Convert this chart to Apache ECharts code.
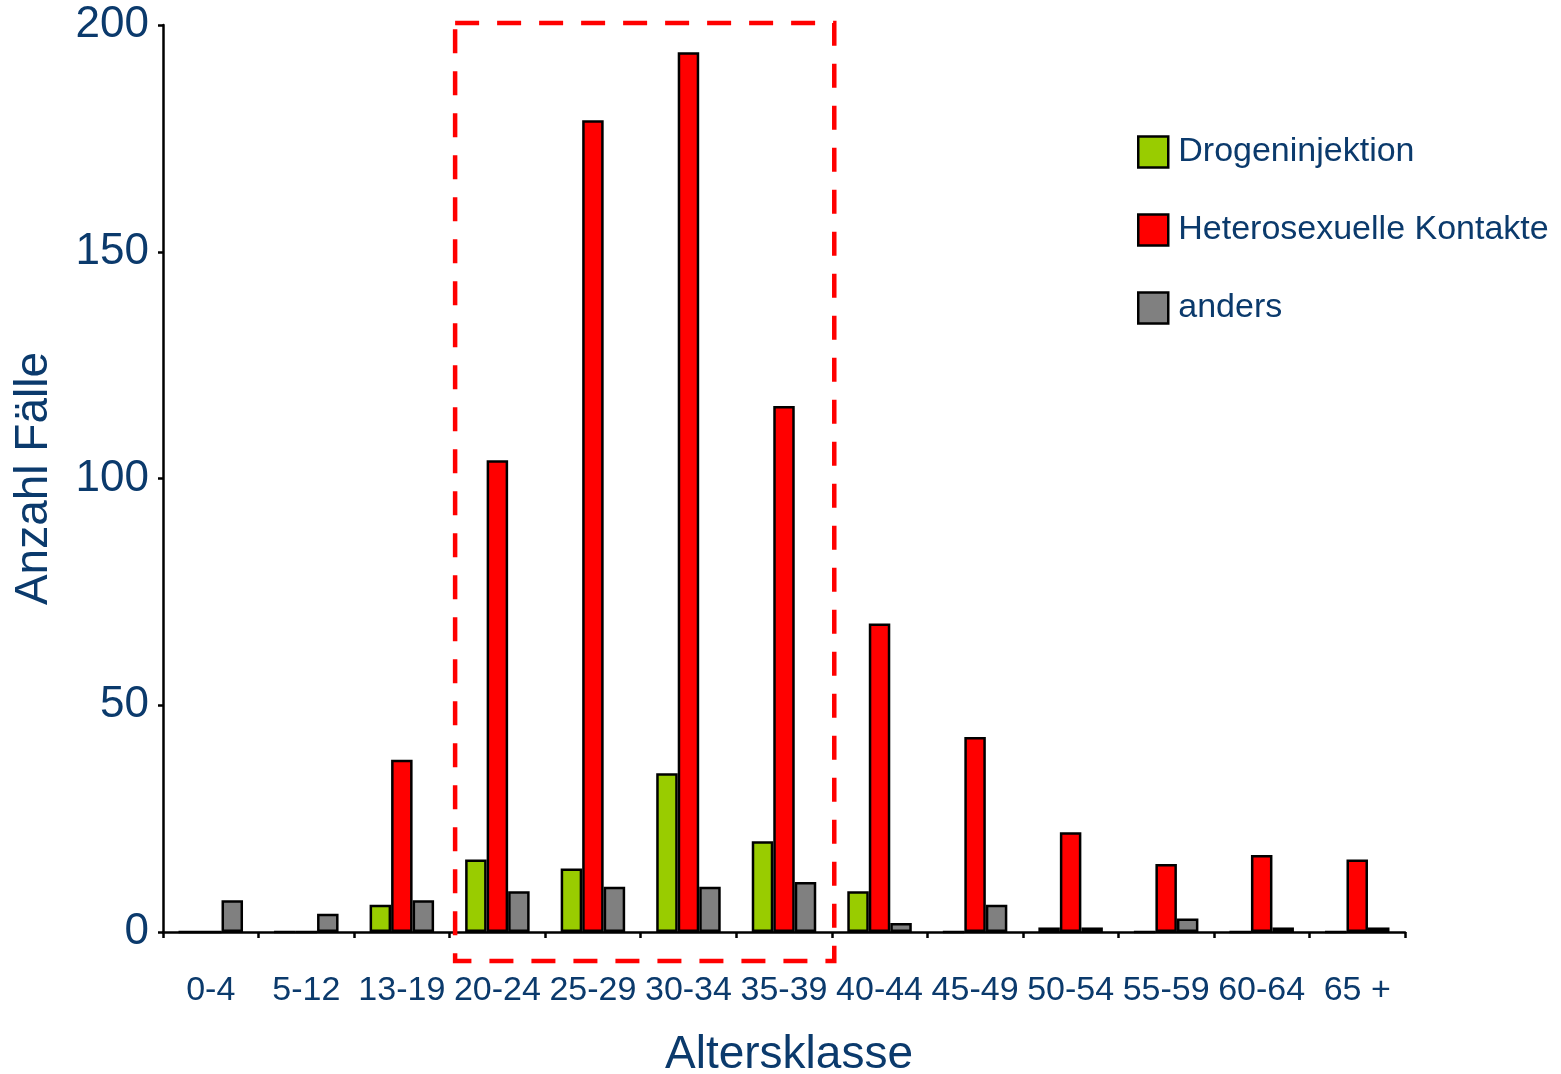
<!DOCTYPE html>
<html>
<head>
<meta charset="utf-8">
<script src="https://cdn.jsdelivr.net/npm/echarts@6/dist/echarts.min.js"></script>
<style>
  html, body { margin: 0; padding: 0; background: #fff; }
  #chart { width: 1561px; height: 1074px; }
</style>
</head>
<body>
<div id="chart"></div>
<script>
// Age classes and case counts per transmission route
const categories = ['0-4', '5-12', '13-19', '20-24', '25-29', '30-34', '35-39',
                    '40-44', '45-49', '50-54', '55-59', '60-64', '65 +'];
const drogeninjektion = [0, 0, 6, 16, 14, 35, 20, 9, 0, 1, 0, 0, 0];
const heterosexuell   = [0, 0, 38, 104, 179, 194, 116, 68, 43, 22, 15, 17, 16];
const anders          = [7, 4, 7, 9, 10, 10, 11, 2, 6, 1, 3, 1, 1];
const yTicks = [0, 50, 100, 150, 200];

// Highlighted age range (first and last class of the dashed frame)
const highlightFrom = '20-24';
const highlightTo = '35-39';

const textColor = '#0B3A6C';
const font = '"Liberation Sans", Arial, sans-serif';

// A few tiny bars carry their own fill colour
const drogColors = { 9: '#B000B0' };
const andersColors = { 9: '#A85A08', 11: '#A85A08', 12: '#A85A08' };

function withColors(values, colors) {
  return values.map((v, i) => colors[i] ? { value: v, itemStyle: { color: colors[i] } } : v);
}

const barStyle = (color) => ({ color: color, borderColor: '#000', borderWidth: 2.5 });

const chart = echarts.init(document.getElementById('chart'));
chart.setOption({
  animation: false,
  textStyle: { fontFamily: font },
  grid: { left: 163, right: 156, top: 25, bottom: 142, containLabel: false, outerBoundsMode: 'none' },
  legend: {
    orient: 'vertical',
    left: 1137,
    top: 135,
    padding: 0,
    itemWidth: 30,
    itemHeight: 31,
    itemGap: 44,
    icon: 'rect',
    selectedMode: false,
    textStyle: { fontSize: 34, color: textColor, fontFamily: font, lineHeight: 34, padding: [0, 0, 0, 5] },
    itemStyle: { borderColor: '#000', borderWidth: 2.5 },
    data: ['Drogeninjektion', 'Heterosexuelle Kontakte', 'anders']
  },
  xAxis: {
    type: 'category',
    data: categories,
    name: 'Altersklasse',
    nameLocation: 'middle',
    nameGap: 100,
    nameTextStyle: { fontSize: 46, color: textColor, fontFamily: font, padding: [0, 0, 0, 10] },
    axisLine: { lineStyle: { color: '#000', width: 2.5 } },
    axisTick: { show: true, length: 6, lineStyle: { color: '#000', width: 2.5 } },
    axisLabel: { fontSize: 34, color: textColor, margin: 42, interval: 0, fontFamily: font },
    splitLine: { show: false }
  },
  yAxis: {
    type: 'value',
    min: yTicks[0],
    max: yTicks[yTicks.length - 1],
    interval: yTicks[1] - yTicks[0],
    name: 'Anzahl Fälle',
    nameLocation: 'middle',
    nameGap: 106,
    nameRotate: 90,
    nameTextStyle: { fontSize: 46, color: textColor, fontFamily: font },
    axisLine: { show: true, lineStyle: { color: '#000', width: 2.5 } },
    axisTick: { show: true, length: 5, lineStyle: { color: '#000', width: 2.5 } },
    axisLabel: { fontSize: 44, color: textColor, margin: 14, fontFamily: font },
    splitLine: { show: false }
  },
  series: [
    {
      name: 'Drogeninjektion', type: 'bar', barWidth: 21.5, barGap: '0%',
      itemStyle: barStyle('#99CC00'),
      data: withColors(drogeninjektion, drogColors)
    },
    {
      name: 'Heterosexuelle Kontakte', type: 'bar', barWidth: 21.5, barGap: '0%',
      itemStyle: barStyle('#FF0000'),
      data: heterosexuell
    },
    {
      name: 'anders', type: 'bar', barWidth: 21.5, barGap: '0%',
      itemStyle: barStyle('#808080'),
      data: withColors(anders, andersColors)
    }
  ]
});

// Dashed frame around the highlighted age classes, placed from the axis scales
function drawFrame() {
  const i0 = categories.indexOf(highlightFrom);
  const i1 = categories.indexOf(highlightTo);
  const c0 = chart.convertToPixel({ xAxisIndex: 0 }, categories[i0]);
  const c1 = chart.convertToPixel({ xAxisIndex: 0 }, categories[i1]);
  const band = chart.convertToPixel({ xAxisIndex: 0 }, categories[1]) -
               chart.convertToPixel({ xAxisIndex: 0 }, categories[0]);
  const yTop = chart.convertToPixel({ yAxisIndex: 0 }, yTicks[yTicks.length - 1]);
  const yBottom = chart.convertToPixel({ yAxisIndex: 0 }, yTicks[0]);
  const x0 = c0 - band / 2 + 5.5;
  const x1 = c1 + band / 2 + 2.5;
  const y0 = yTop - 2;
  const y1 = yBottom + 29;
  chart.setOption({
    graphic: [{
      type: 'rect',
      z: 100,
      shape: { x: x0, y: y0, width: x1 - x0, height: y1 - y0 },
      style: { fill: null, stroke: '#FF0000', lineWidth: 4.5, lineDash: [24, 18] }
    }]
  });
}
drawFrame();
</script>
</body>
</html>
